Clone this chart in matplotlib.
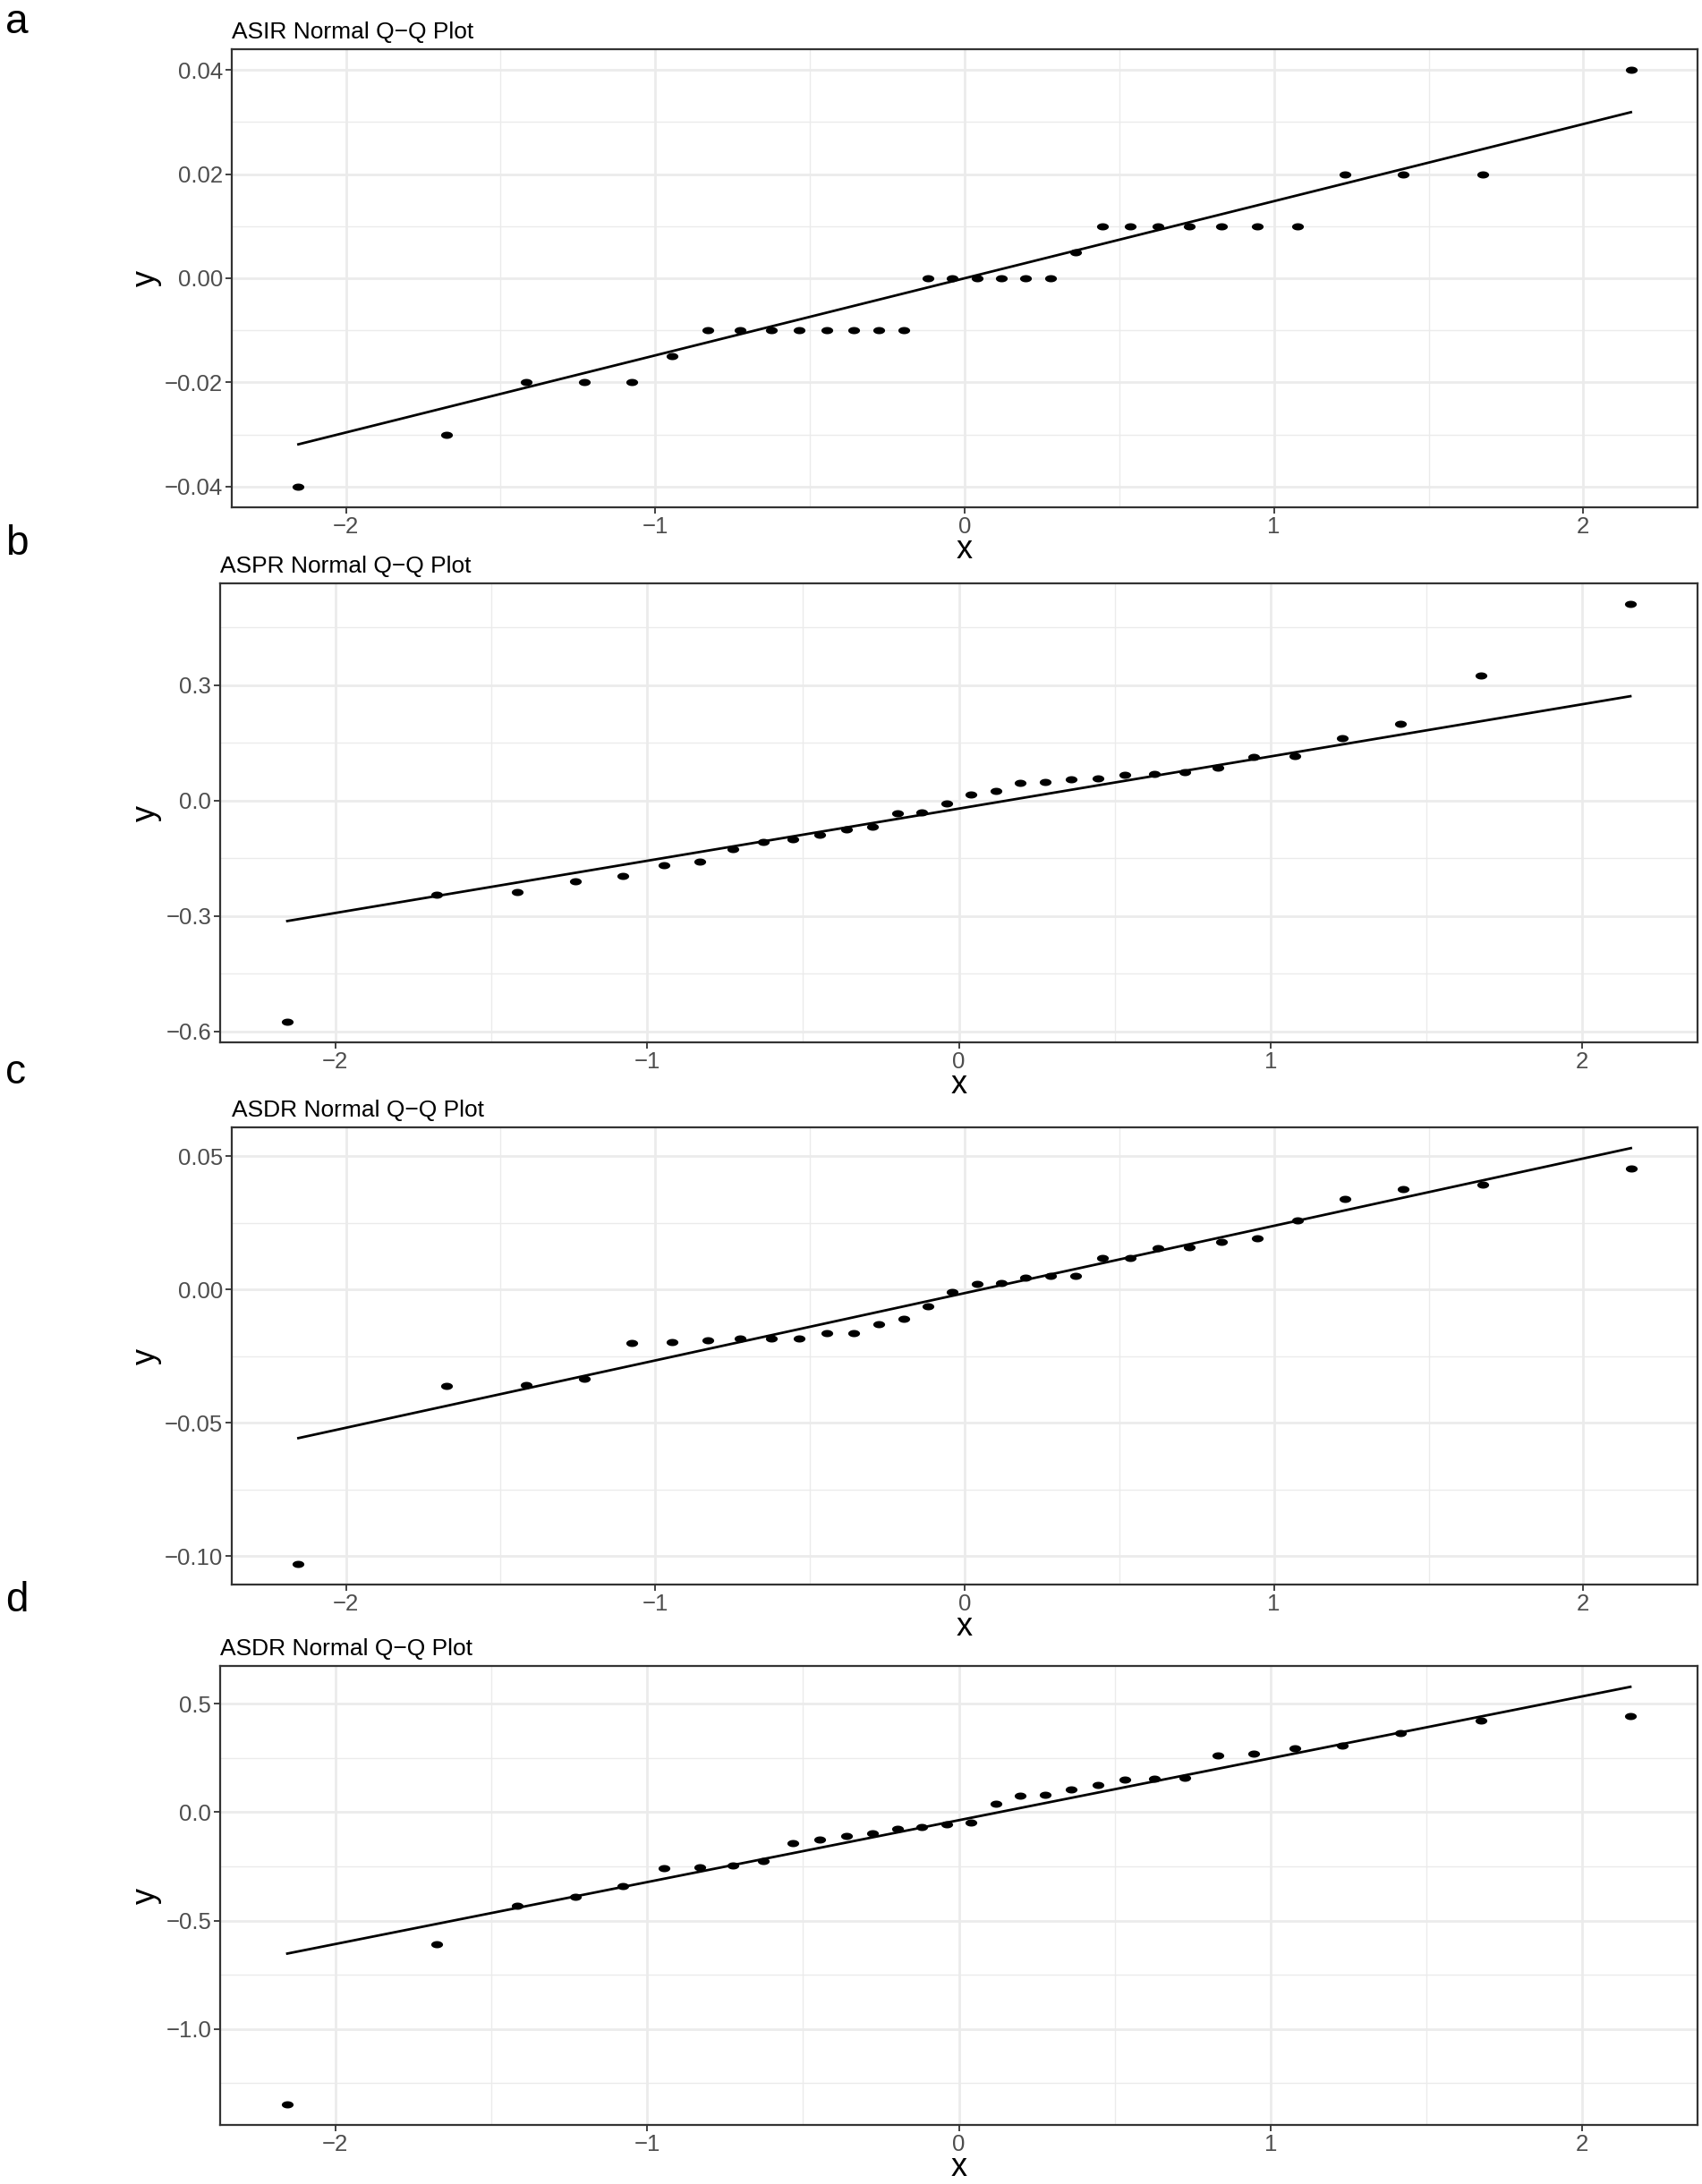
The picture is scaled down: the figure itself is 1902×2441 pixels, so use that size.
import numpy as np
import matplotlib
matplotlib.use("Agg")
import matplotlib.pyplot as plt

plt.rcParams['font.family'] = ['Liberation Sans', 'DejaVu Sans']

# theoretical normal quantiles (n = 32), shared by all panels
theo = [-2.1539, -1.6759, -1.4178, -1.2298, -1.0775, -0.9467, -0.8306, -0.7249,
        -0.6261, -0.5338, -0.4451, -0.3599, -0.2776, -0.1970, -0.1177, -0.0392,
        0.0392, 0.1177, 0.1970, 0.2776, 0.3599, 0.4451, 0.5338, 0.6261,
        0.7249, 0.8306, 0.9467, 1.0775, 1.2298, 1.4178, 1.6759, 2.1539]

# sample quantiles
asir = [-0.04, -0.03, -0.02, -0.02, -0.02, -0.015, -0.01, -0.01,
        -0.01, -0.01, -0.01, -0.01, -0.01, -0.01, 0.0, 0.0,
        0.0, 0.0, 0.0, 0.0, 0.005, 0.01, 0.01, 0.01,
        0.01, 0.01, 0.01, 0.01, 0.02, 0.02, 0.02, 0.04]
aspr = [-0.574, -0.245, -0.237, -0.210, -0.195, -0.168, -0.158, -0.125,
        -0.108, -0.100, -0.089, -0.074, -0.067, -0.033, -0.030, -0.008,
        0.015, 0.025, 0.045, 0.048, 0.055, 0.058, 0.067, 0.070,
        0.074, 0.085, 0.113, 0.115, 0.161, 0.200, 0.325, 0.510]
asdr_c = [-0.1028, -0.0360, -0.0359, -0.0333, -0.0202, -0.0196, -0.0190, -0.0185,
          -0.0183, -0.0183, -0.0164, -0.0162, -0.0130, -0.0111, -0.0062, -0.0009,
          0.0022, 0.0023, 0.0045, 0.0050, 0.0050, 0.0117, 0.0119, 0.0156,
          0.0158, 0.0177, 0.0192, 0.0258, 0.0341, 0.0377, 0.0393, 0.0455]
asdr_d = [-1.346, -0.610, -0.433, -0.392, -0.341, -0.259, -0.256, -0.246,
          -0.224, -0.142, -0.125, -0.109, -0.098, -0.076, -0.067, -0.054,
          -0.047, 0.038, 0.076, 0.081, 0.106, 0.127, 0.150, 0.153,
          0.160, 0.261, 0.271, 0.296, 0.309, 0.364, 0.424, 0.445]

# qq line end values at the extreme theoretical quantiles
line_a = [-0.0319, 0.0319]
line_b = [-0.313, 0.271]
line_c = [-0.0557, 0.0530]
line_d = [-0.652, 0.578]

titles = ['ASIR Normal Q\u2212Q Plot', 'ASPR Normal Q\u2212Q Plot',
          'ASDR Normal Q\u2212Q Plot', 'ASDR Normal Q\u2212Q Plot']
letters = ['a', 'b', 'c', 'd']
yticks = [[-0.04, -0.02, 0.0, 0.02, 0.04],
          [-0.6, -0.3, 0.0, 0.3],
          [-0.10, -0.05, 0.0, 0.05],
          [-1.0, -0.5, 0.0, 0.5]]
ydec = [2, 1, 2, 1]
xticks = [-2, -1, 0, 1, 2]

samples = [asir, aspr, asdr_c, asdr_d]
lines = [line_a, line_b, line_c, line_d]

W, H = 1902, 2441
fig = plt.figure(figsize=(W / 100, H / 100), dpi=100)

# panel boxes in pixels: left, top, right, bottom
boxes = [(259, 55, 1897, 567), (246, 652, 1897, 1165),
         (259, 1260, 1897, 1771), (246, 1862, 1897, 2375)]
letter_base = [37, 620, 1211, 1801]

t = np.linspace(0, 2 * np.pi, 41)
ell = list(zip(1.65 * np.cos(t), np.sin(t)))

def fmt(v, d):
    s = f"{v:.{d}f}"
    return s.replace('-', '\u2212')

for i in range(4):
    l, tp, r, b = boxes[i]
    ax = fig.add_axes([l / W, 1 - b / H, (r - l) / W, (b - tp) / H])
    ys = samples[i]
    lo = min(min(ys), min(lines[i]))
    hi = max(max(ys), max(lines[i]))
    pad = (hi - lo) * 0.05
    ax.set_ylim(lo - pad, hi + pad)
    xpad = (theo[-1] - theo[0]) * 0.05
    ax.set_xlim(theo[0] - xpad, theo[-1] + xpad)

    ax.set_xticks(xticks)
    ax.set_xticklabels([fmt(v, 0) for v in xticks])
    ax.set_xticks([-1.5, -0.5, 0.5, 1.5], minor=True)
    yt = yticks[i]
    ax.set_yticks(yt)
    ax.set_yticklabels([fmt(v, ydec[i]) for v in yt])
    step = yt[1] - yt[0]
    ymin, ymax = ax.get_ylim()
    mn = [v + step / 2 for v in [yt[0] - step] + yt if ymin < v + step / 2 < ymax]
    ax.set_yticks(mn, minor=True)

    ax.grid(True, which='major', color='#EBEBEB', linewidth=2.0)
    ax.grid(True, which='minor', color='#EBEBEB', linewidth=1.0)
    ax.set_axisbelow(True)
    ax.tick_params(which='major', length=5, width=1.3, color='#333333',
                   labelsize=18.5, labelcolor='#4D4D4D', pad=2)
    ax.tick_params(which='minor', length=0)
    for sp in ax.spines.values():
        sp.set_color('#333333')
        sp.set_linewidth(1.6)

    ax.plot([theo[0], theo[-1]], lines[i], color='black', linewidth=2.0, zorder=3)
    ax.plot(theo, ys, linestyle='none', marker=ell, markersize=9.5,
            color='black', markeredgewidth=0, zorder=4)

    fig.text(l / W, 1 - (tp - 12) / H, titles[i], fontsize=19,
             ha='left', va='baseline')
    fig.text((l + r) / 2 / W, 1 - (b + 57) / H, 'x', fontsize=26,
             ha='center', va='baseline')
    fig.text(163 / W, 1 - (tp + b) / 2 / H, 'y', fontsize=26, rotation=90,
             ha='center', va='center')
    fig.text(6 / W, 1 - letter_base[i] / H, letters[i], fontsize=33,
             ha='left', va='baseline')

fig.savefig('out.png', dpi=100, facecolor='white')
